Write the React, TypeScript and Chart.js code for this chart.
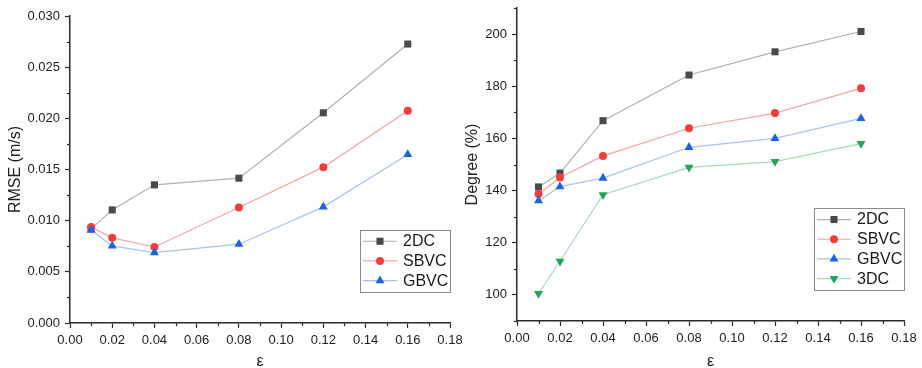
import React, { useEffect, useRef } from "react";
import { Chart, registerables } from "chart.js";

Chart.register(...registerables);

// ε values shared by both panels
const EPSILON = [0.01, 0.02, 0.04, 0.08, 0.12, 0.16];

// RMSE (m/s) per method
const RMSE_2DC = [0.0092, 0.01105, 0.0135, 0.01415, 0.02054, 0.02726];
const RMSE_SBVC = [0.00939, 0.00832, 0.00743, 0.01128, 0.01523, 0.02074];
const RMSE_GBVC = [0.00907, 0.00753, 0.00688, 0.0077, 0.01135, 0.01647];

// Degree (%) per method
const DEGREE_2DC = [141.4, 146.7, 166.8, 184.3, 193.2, 201.0];
const DEGREE_SBVC = [138.7, 145.0, 153.3, 163.9, 169.7, 179.2];
const DEGREE_GBVC = [136.1, 141.5, 144.8, 156.6, 160.0, 167.7];
const DEGREE_3DC = [100.5, 112.9, 138.4, 148.9, 151.1, 158.0];

// Axis ticks
const X_TICKS = [0, 0.02, 0.04, 0.06, 0.08, 0.1, 0.12, 0.14, 0.16, 0.18];
const RMSE_TICKS = [0, 0.005, 0.01, 0.015, 0.02, 0.025, 0.03];
const DEGREE_TICKS = [100, 120, 140, 160, 180, 200];

const NAMES = ["2DC", "SBVC", "GBVC", "3DC"];
const LINE_COLORS = ["#b0b0b0", "#f5a3a3", "#a6c3ef", "#a3dbb6"];
const MARK_COLORS = ["#4a4a4a", "#f23d3d", "#1a63e3", "#27a35c"];
const MARK_STYLES = ["rect", "circle", "triangle", "triangle"];
const MARK_RADII = [5, 4, 5.2, 5.2];
const MARK_ROT = [0, 0, 0, 180];

const FONT = "Arial, 'Liberation Sans', Helvetica, sans-serif";
const AXIS_COLOR = "#2b2b2b";

function makeDataset(i: number, values: number[]) {
  return {
    label: NAMES[i],
    data: EPSILON.map((x, k) => ({ x, y: values[k] })),
    borderColor: LINE_COLORS[i],
    backgroundColor: MARK_COLORS[i],
    borderWidth: 1.2,
    pointStyle: MARK_STYLES[i],
    pointRadius: MARK_RADII[i],
    pointRotation: MARK_ROT[i],
    pointBorderWidth: 0,
    pointBackgroundColor: MARK_COLORS[i],
    pointBorderColor: MARK_COLORS[i],
    tension: 0,
    fill: false,
  };
}

// Short minor ticks between the labelled ones
const minorTicks = {
  id: "minorTicks",
  afterDraw(chart: any, _args: any, opts: any) {
    const { ctx, chartArea } = chart;
    ctx.save();
    ctx.strokeStyle = AXIS_COLOR;
    ctx.lineWidth = 1.2;
    const xs = chart.scales.x;
    for (const v of opts.x as number[]) {
      const px = Math.round(xs.getPixelForValue(v)) + 0.5;
      ctx.beginPath();
      ctx.moveTo(px, chartArea.bottom);
      ctx.lineTo(px, chartArea.bottom + 3);
      ctx.stroke();
    }
    const ys = chart.scales.y;
    for (const v of opts.y as number[]) {
      const py = Math.round(ys.getPixelForValue(v)) + 0.5;
      ctx.beginPath();
      ctx.moveTo(chartArea.left - 3, py);
      ctx.lineTo(chartArea.left, py);
      ctx.stroke();
    }
    ctx.restore();
  },
};

// Boxed legend drawn inside the lower-right of the plot area
const boxLegend = {
  id: "boxLegend",
  afterDraw(chart: any, _args: any, opts: any) {
    const { ctx, chartArea } = chart;
    const items: number[] = opts.items;
    const rowH = 19.7;
    const w = 90;
    const h = items.length * rowH + 3;
    const right = chartArea.right;
    const bottom = chartArea.bottom - 31;
    const left = right - w;
    const top = bottom - h;
    ctx.save();
    ctx.fillStyle = "#ffffff";
    ctx.fillRect(left, top, w, h);
    ctx.strokeStyle = "#8c8c8c";
    ctx.lineWidth = 1;
    ctx.strokeRect(Math.round(left) + 0.5, Math.round(top) + 0.5, Math.round(w), Math.round(h));
    items.forEach((i, r) => {
      const cy = top + 1.5 + rowH * (r + 0.5);
      ctx.strokeStyle = LINE_COLORS[i];
      ctx.lineWidth = 1.2;
      ctx.beginPath();
      ctx.moveTo(left + 3, cy);
      ctx.lineTo(left + 37, cy);
      ctx.stroke();
      const mx = left + 20;
      ctx.fillStyle = MARK_COLORS[i];
      ctx.beginPath();
      const rr = MARK_RADII[i];
      if (MARK_STYLES[i] === "rect") {
        const s = rr * Math.SQRT1_2;
        ctx.rect(mx - s, cy - s, 2 * s, 2 * s);
      } else if (MARK_STYLES[i] === "circle") {
        ctx.arc(mx, cy, rr, 0, Math.PI * 2);
      } else {
        const dir = MARK_ROT[i] === 180 ? -1 : 1;
        const hw = rr * Math.sqrt(3) / 2;
        ctx.moveTo(mx, cy - dir * rr);
        ctx.lineTo(mx - hw, cy + dir * rr / 2);
        ctx.lineTo(mx + hw, cy + dir * rr / 2);
        ctx.closePath();
      }
      ctx.fill();
      ctx.fillStyle = "#1a1a1a";
      ctx.font = `16px ${FONT}`;
      ctx.textBaseline = "middle";
      ctx.textAlign = "left";
      ctx.fillText(NAMES[i], left + 43, cy + 0.5);
    });
    ctx.restore();
  },
};

type PanelProps = {
  datasets: any[];
  yMin: number;
  yMax: number;
  yTicks: number[];
  yDigits: number;
  yTitle: string;
  yMinor: number[];
  legendItems: number[];
  yWidth: number;
  xHeight: number;
  padTop: number;
  padRight: number;
  titlePad: number;
  width: number;
};

function clearScalePadding(s: any) {
  s.paddingLeft = 0;
  s.paddingRight = 0;
  s.paddingTop = 0;
  s.paddingBottom = 0;
}

function Panel(p: PanelProps) {
  const ref = useRef<HTMLCanvasElement | null>(null);
  useEffect(() => {
    if (!ref.current) return;
    const xMinor = X_TICKS.slice(0, -1).map((v) => +(v + 0.01).toFixed(2));
    const chart = new Chart(ref.current, {
      type: "line",
      data: { datasets: p.datasets },
      plugins: [minorTicks, boxLegend],
      options: {
        animation: false,
        responsive: false,
        devicePixelRatio: 1,
        layout: {
          autoPadding: false,
          padding: { top: p.padTop, right: p.padRight, left: 0, bottom: 0 },
        },
        plugins: {
          legend: { display: false },
          tooltip: { enabled: false },
          minorTicks: { x: xMinor, y: p.yMinor },
          boxLegend: { items: p.legendItems },
        } as any,
        scales: {
          x: {
            type: "linear",
            min: 0,
            max: 0.18,
            afterFit: (s: any) => {
              s.height = p.xHeight;
              clearScalePadding(s);
            },
            afterBuildTicks: (s: any) => {
              s.ticks = X_TICKS.map((v) => ({ value: v }));
            },
            grid: {
              drawOnChartArea: false,
              drawTicks: true,
              tickLength: 5,
              tickColor: AXIS_COLOR,
              tickWidth: 1.2,
            },
            border: { display: true, color: AXIS_COLOR, width: 1.5 },
            ticks: {
              color: "#222",
              font: { family: FONT, size: 13 },
              padding: 5,
              maxRotation: 0,
              autoSkip: false,
              callback: (v: any) => Number(v).toFixed(2),
            },
            title: {
              display: true,
              text: "ε",
              color: "#222",
              font: { family: FONT, size: 16, lineHeight: 0.8 },
              padding: { top: 0, bottom: 0 },
            },
          },
          y: {
            type: "linear",
            min: p.yMin,
            max: p.yMax,
            afterFit: (s: any) => {
              s.width = p.yWidth;
              clearScalePadding(s);
            },
            afterBuildTicks: (s: any) => {
              s.ticks = p.yTicks.map((v) => ({ value: v }));
            },
            grid: {
              drawOnChartArea: false,
              drawTicks: true,
              tickLength: 5,
              tickColor: AXIS_COLOR,
              tickWidth: 1.2,
            },
            border: { display: true, color: AXIS_COLOR, width: 1.5 },
            ticks: {
              color: "#222",
              font: { family: FONT, size: 13 },
              padding: 5,
              autoSkip: false,
              callback: (v: any) => Number(v).toFixed(p.yDigits),
            },
            title: {
              display: true,
              text: p.yTitle,
              color: "#222",
              font: { family: FONT, size: 16, lineHeight: 1.2 },
              padding: { top: p.titlePad, bottom: 0 },
            },
          },
        },
      } as any,
    });
    return () => chart.destroy();
  }, []);
  return <canvas ref={ref} width={p.width} height={368} style={{ display: "block", width: p.width, height: 368 }} />;
}

export default function App() {
  const rmseSets = [
    makeDataset(2, RMSE_GBVC),
    makeDataset(1, RMSE_SBVC),
    makeDataset(0, RMSE_2DC),
  ];
  const degreeSets = [
    makeDataset(3, DEGREE_3DC),
    makeDataset(2, DEGREE_GBVC),
    makeDataset(1, DEGREE_SBVC),
    makeDataset(0, DEGREE_2DC),
  ];
  const rmseMinor = RMSE_TICKS.slice(0, -1).map((v) => v + 0.0025);
  const degreeMinor = [90, 110, 130, 150, 170, 190, 210];
  return (
    <div
      style={{
        position: "fixed",
        left: 0,
        top: 0,
        width: 922,
        height: 368,
        overflow: "hidden",
        background: "#ffffff",
      }}
    >
      <div style={{ position: "absolute", left: 0, top: 0 }}>
        <Panel
          datasets={rmseSets}
          yMin={0}
          yMax={0.03}
          yTicks={RMSE_TICKS}
          yDigits={3}
          yTitle="RMSE (m/s)"
          yMinor={rmseMinor}
          legendItems={[0, 1, 2]}
          yWidth={70}
          xHeight={45}
          padTop={16}
          padRight={12}
          titlePad={6}
          width={462}
        />
      </div>
      <div style={{ position: "absolute", left: 460, top: 0 }}>
        <Panel
          datasets={degreeSets}
          yMin={90}
          yMax={210}
          yTicks={DEGREE_TICKS}
          yDigits={0}
          yTitle="Degree (%)"
          yMinor={degreeMinor}
          legendItems={[0, 1, 2, 3]}
          yWidth={57}
          xHeight={47}
          padTop={8}
          padRight={18}
          titlePad={3}
          width={462}
        />
      </div>
    </div>
  );
}
